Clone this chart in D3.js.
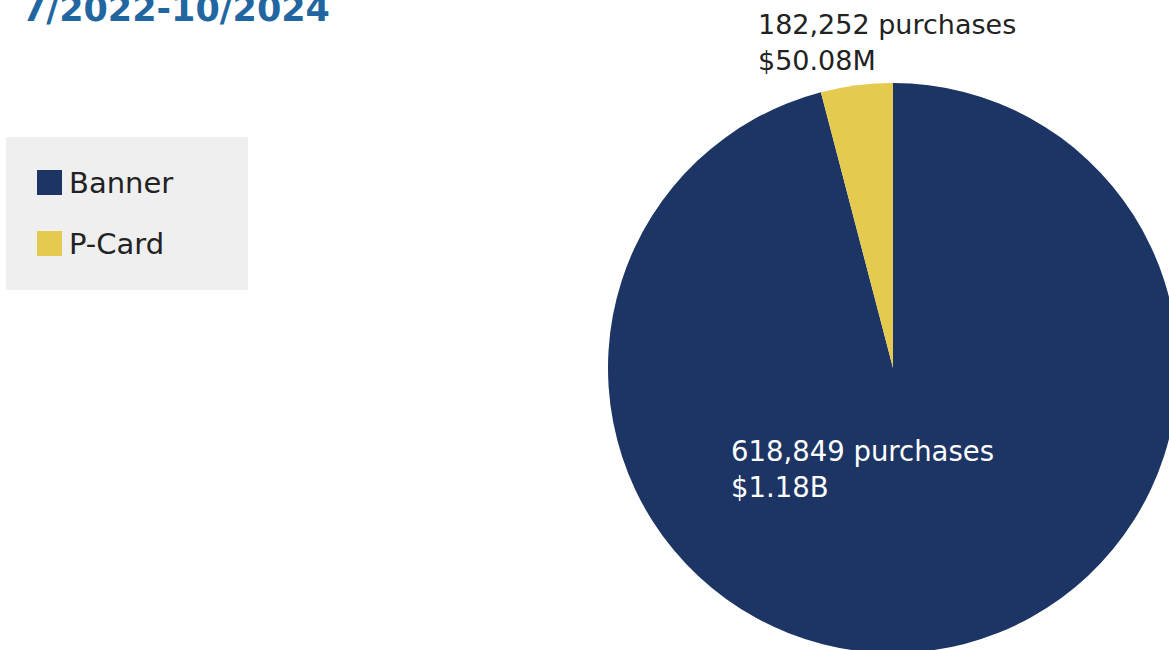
<!DOCTYPE html>
<html>
<head>
<meta charset="utf-8">
<script src="https://cdn.jsdelivr.net/npm/d3@7"></script>
<style>
body { margin: 0; background: #fff; }
svg text { font-family: "DejaVu Sans", sans-serif; }
</style>
</head>
<body>
<div id="chart"></div>
<script>
var width = 1169,
	height = 650;

var categories = ["Banner", "P-Card"],
	dollars = [1180, 50.08], // millions
	purchases = ["618,849", "182,252"],
	amountLabels = ["$1.18B", "$50.08M"],
	colors = ["#1c3564", "#e5ca50"];

var cx = 893, cy = 368, radius = 285;

var data = categories.map(function(c, i) {
	return { name: c, value: dollars[i], count: purchases[i], amount: amountLabels[i] };
});

var svg = d3.select("#chart").append("svg")
	.attr("width", width)
	.attr("height", height);

// title (top line is cut off in the original)
svg.append("text")
	.attr("x", 22)
	.attr("y", 21)
	.attr("fill", "#2266a1")
	.style("font-weight", "bold")
	.style("font-size", "35px")
	.text("7/2022-10/2024");

// legend
var legend = svg.append("g").attr("class", "legend");

legend.append("rect")
	.attr("x", 6)
	.attr("y", 137)
	.attr("width", 242)
	.attr("height", 153)
	.attr("fill", "#efefef");

var item = legend.selectAll(".item")
	.data(data)
	.enter().append("g")
	.attr("class", "item")
	.attr("transform", function(d, i) { return "translate(37," + (170 + i * 61) + ")"; });

item.append("rect")
	.attr("width", 25)
	.attr("height", 25)
	.attr("fill", function(d, i) { return colors[i]; });

item.append("text")
	.attr("x", 32)
	.attr("y", 23)
	.attr("fill", "#222")
	.style("font-size", "29px")
	.text(function(d) { return d.name; });

// pie
var pie = d3.pie()
	.sort(null)
	.value(function(d) { return d.value; });

var arc = d3.arc()
	.innerRadius(0)
	.outerRadius(radius);

var g = svg.append("g")
	.attr("transform", "translate(" + cx + "," + cy + ")");

g.selectAll(".slice")
	.data(pie(data))
	.enter().append("path")
	.attr("class", "slice")
	.attr("fill", function(d, i) { return colors[i]; })
	.attr("d", arc);

// labels: Banner inside, P-Card above the pie
var labelPos = [[-162, 93], [-135, -334]],
	labelSize = ["27.5px", "27px"],
	labelColor = ["#fff", "#222"];

var lbl = g.selectAll(".lbl")
	.data(data)
	.enter().append("text")
	.attr("class", "lbl")
	.attr("fill", function(d, i) { return labelColor[i]; })
	.style("font-size", function(d, i) { return labelSize[i]; })
	.attr("transform", function(d, i) { return "translate(" + labelPos[i][0] + "," + labelPos[i][1] + ")"; });

lbl.append("tspan")
	.attr("x", 0)
	.attr("y", 0)
	.text(function(d) { return d.count + " purchases"; });

lbl.append("tspan")
	.attr("x", 0)
	.attr("y", 36)
	.text(function(d) { return d.amount; });
</script>
</body>
</html>
